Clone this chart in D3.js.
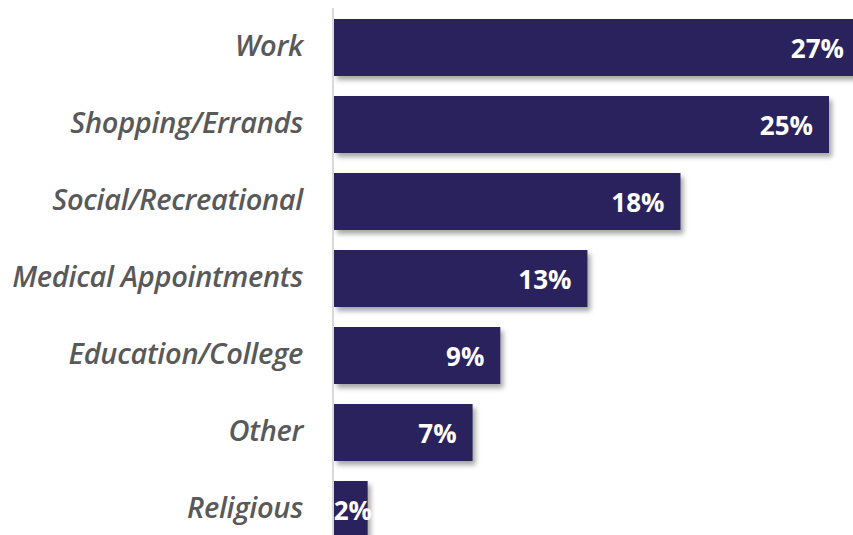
<!DOCTYPE html>
<html><head><meta charset="utf-8">
<script src="https://cdn.jsdelivr.net/npm/d3@7"></script>
<style>html,body{margin:0;padding:0;background:#fff;overflow:hidden}</style>
</head><body><svg id="c" width="853" height="535"></svg>
<script>
const categories = ["Work","Shopping/Errands","Social/Recreational","Medical Appointments","Education/College","Other","Religious"];
const values = [27, 25, 17.5, 12.8, 8.4, 7.0, 1.7];
const valueLabels = ["27%","25%","18%","13%","9%","7%","2%"];

const W = 853, H = 535;
const svg = d3.select("#c");
const defs = svg.append("defs");
const f = defs.append("filter").attr("id","sh").attr("x","-10%").attr("y","-20%").attr("width","130%").attr("height","160%");
f.append("feDropShadow").attr("dx",3).attr("dy",4).attr("stdDeviation",2.5).attr("flood-color","#000").attr("flood-opacity",0.35);

const x = d3.scaleLinear().domain([0, 25]).range([334, 829]);
const y = d3.scaleBand().domain(categories).range([9, 548]).paddingInner(0.26).paddingOuter(0.13);

svg.append("g").selectAll("rect").data(categories).join("rect")
  .attr("x", x(0)).attr("y", d => y(d))
  .attr("width", (d,i) => x(values[i]) - x(0))
  .attr("height", y.bandwidth())
  .attr("fill", "#29245c")
  .attr("filter","url(#sh)");

svg.append("line").attr("x1",333).attr("x2",333).attr("y1",8).attr("y2",H)
  .attr("stroke","#d9d9d9").attr("stroke-width",2);

svg.append("g").selectAll("text").data(categories).join("text")
  .attr("x", 303).attr("y", d => y(d) + y.bandwidth()/2 - 3)
  .attr("text-anchor","end").attr("dominant-baseline","central")
  .attr("font-family","'Open Sans', 'Noto Sans', sans-serif")
  .attr("font-style","italic").attr("font-weight",600)
  .attr("font-size",29).attr("fill","#595959")
  .attr("letter-spacing",-0.3)
  .text(d => d);

svg.append("g").selectAll("text").data(categories).join("text")
  .attr("x", (d,i) => {
    const e = x(values[i]) - 16;
    return Math.min(Math.max(e, 372), W - 9);
  })
  .attr("y", d => y(d) + y.bandwidth()/2)
  .attr("text-anchor","end").attr("dominant-baseline","central")
  .attr("font-family","'Open Sans', 'Noto Sans', sans-serif")
  .attr("font-weight",700).attr("font-size",26).attr("fill","#fff")
  .text((d,i) => valueLabels[i]);
</script></body></html>
